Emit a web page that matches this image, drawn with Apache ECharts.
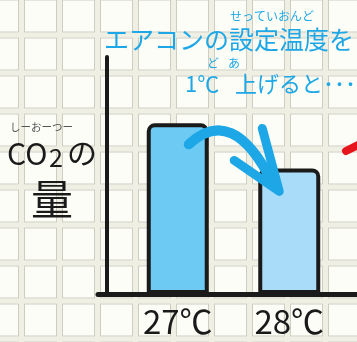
<!DOCTYPE html>
<html>
<head>
<meta charset="utf-8">
<script src="https://cdn.jsdelivr.net/npm/echarts@6/dist/echarts.min.js"></script>
<style>
  html, body { margin: 0; padding: 0; }
  #main { width: 357px; height: 342px; }
</style>
</head>
<body>
<div id="main"></div>
<script>
// data
var categories = ['27℃', '28℃'];
var co2Values = [72, 53];
var barColors = ['#6ccaf3', '#a9dcf8'];

var titleLine1 = 'エアコンの設定温度を';
var titleRuby1 = 'せっていおんど';
var titleLine2a = '1℃';
var titleLine2b = '上げると･･･';
var yTitleRuby = 'しーおーつー';

var FONT = '"Noto Sans CJK JP", "Noto Sans", sans-serif';
var INK = '#1a1a1a';
var BLUE = '#1ea7e6';

// tiled background
var tile = document.createElement('canvas');
tile.width = 38;
tile.height = 38;
var tc = tile.getContext('2d');
tc.fillStyle = '#efefe4';
tc.fillRect(0, 0, 38, 38);
[[24, -0.5], [-14, -0.5], [24, 37.5], [-14, 37.5]].forEach(function (p) {
    tc.fillStyle = '#fdfdf8';
    tc.fillRect(p[0], p[1], 33, 33);
    tc.strokeStyle = '#cdcdc1';
    tc.lineWidth = 1;
    tc.strokeRect(p[0] + 0.5, p[1] + 0.5, 32, 32);
});

var chart = echarts.init(document.getElementById('main'));

var barData = co2Values.map(function (v, i) {
    return { value: v, itemStyle: { color: barColors[i] } };
});

function txt(text, x, y, size, color, align) {
    return {
        type: 'text', x: x, y: y, z: 10,
        style: {
            text: text, fill: color, fontSize: size, fontFamily: FONT,
            align: align || 'left', verticalAlign: 'middle'
        }
    };
}

var option = {
    backgroundColor: { image: tile, repeat: 'repeat' },
    animation: false,
    grid: [
        { left: 122, right: 12, top: 57, bottom: 48 },
        { left: 98, right: 0, top: 57, bottom: 48 }
    ],
    xAxis: [
        {
            type: 'category', gridIndex: 0, data: categories,
            axisLine: { show: false }, axisTick: { show: false },
            axisLabel: { fontSize: 33, color: INK, fontFamily: FONT, margin: 11 }
        },
        {
            type: 'value', gridIndex: 1, min: 0, max: 1,
            axisLine: { show: true, lineStyle: { color: INK, width: 5 } },
            axisTick: { show: false }, axisLabel: { show: false }, splitLine: { show: false }
        }
    ],
    yAxis: [
        {
            type: 'value', gridIndex: 0, min: 0, max: 100, offset: 15,
            axisLine: { show: true, lineStyle: { color: INK, width: 4 } },
            axisTick: { show: false }, axisLabel: { show: false }, splitLine: { show: false }
        },
        { type: 'value', gridIndex: 1, show: false }
    ],
    series: [{
        type: 'bar',
        data: barData,
        barWidth: 62,
        itemStyle: { borderColor: INK, borderWidth: 4, borderRadius: [6, 6, 0, 0] }
    }],
    graphic: []
};
chart.setOption(option);

// annotations placed from the bar tops
var p1 = chart.convertToPixel({ seriesIndex: 0 }, [categories[0], co2Values[0]]);
var p2 = chart.convertToPixel({ seriesIndex: 0 }, [categories[1], co2Values[1]]);

chart.setOption({
    graphic: [
        txt(titleLine1, 104, 39, 25, BLUE),
        txt(titleRuby1, 230, 16, 12, BLUE),
        txt('ど', 207, 63, 12, BLUE),
        txt('あ', 228, 63, 12, BLUE),
        txt(titleLine2a, 185, 84, 22, BLUE),
        txt(titleLine2b, 235, 84, 22, BLUE),
        txt(yTitleRuby, 10, 127, 10.5, '#555555'),
        txt('CO', 7, 154, 30, INK),
        txt('2', 49, 157, 25, INK),
        txt('の', 67, 153, 30, INK),
        txt('量', 52, 199, 42, INK, 'center'),
        {
            type: 'bezierCurve', z: 12,
            shape: {
                x1: p1[0] + 11, y1: p1[1] + 21,
                cpx1: p1[0] + 55, cpy1: p1[1] - 20,
                x2: p2[0] - 17, y2: p2[1] + 14
            },
            style: { stroke: BLUE, lineWidth: 10, fill: null, lineCap: 'round' }
        },
        {
            type: 'polyline', z: 12,
            shape: { points: [[p2[0] - 27, p2[1] - 40], [p2[0] - 10, p2[1] + 23], [p2[0] - 55, p2[1] - 8]] },
            style: { stroke: BLUE, lineWidth: 9, fill: null, lineCap: 'round', lineJoin: 'round' }
        },
        {
            type: 'line', z: 12,
            shape: { x1: 346, y1: 151, x2: 358, y2: 145 },
            style: { stroke: '#e6141b', lineWidth: 8, lineCap: 'round' }
        }
    ]
});
</script>
</body>
</html>
